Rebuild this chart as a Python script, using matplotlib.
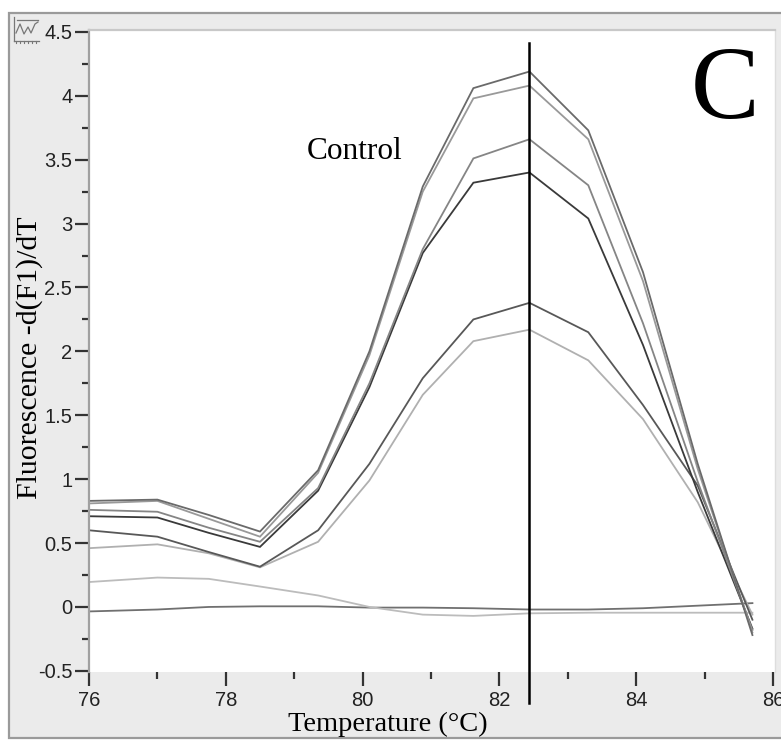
import matplotlib
matplotlib.use("Agg")
import matplotlib.pyplot as plt
from matplotlib.patches import Rectangle
from matplotlib.lines import Line2D
from matplotlib.ticker import MultipleLocator

# ---- data ----
temperature = [76.0, 77.0, 77.75, 78.5, 79.35, 80.1, 80.88, 81.62, 82.44, 83.3, 84.1, 84.9, 85.7]
curve_a = [0.83, 0.84, 0.72, 0.59, 1.07, 2.00, 3.29, 4.06, 4.19, 3.73, 2.62, 1.12, -0.22]
curve_b = [0.81, 0.83, 0.69, 0.55, 1.05, 1.97, 3.25, 3.98, 4.08, 3.66, 2.55, 1.08, -0.20]
curve_c = [0.76, 0.745, 0.62, 0.51, 0.93, 1.75, 2.80, 3.51, 3.66, 3.30, 2.22, 0.98, -0.18]
curve_d = [0.71, 0.70, 0.58, 0.47, 0.91, 1.72, 2.77, 3.32, 3.40, 3.04, 2.05, 0.90, -0.17]
curve_e = [0.60, 0.55, 0.43, 0.315, 0.60, 1.12, 1.79, 2.25, 2.38, 2.15, 1.58, 0.95, -0.10]
curve_f = [0.46, 0.49, 0.42, 0.31, 0.51, 0.99, 1.66, 2.08, 2.17, 1.93, 1.47, 0.82, -0.06]
curve_g = [0.195, 0.23, 0.22, 0.16, 0.09, 0.0, -0.06, -0.07, -0.05, -0.045, -0.045, -0.045, -0.045]
curve_h = [-0.035, -0.02, 0.0, 0.005, 0.005, -0.005, -0.005, -0.01, -0.02, -0.02, -0.01, 0.01, 0.03]
series = [curve_h, curve_g, curve_f, curve_e, curve_d, curve_c, curve_b, curve_a]
colors = ['#707070', '#bcbcbc', '#b0b0b0', '#585858', '#3a3a3a', '#858585', '#999999', '#6a6a6a']
marker_temp = 82.44
xticks = [76, 78, 80, 82, 84, 86]
yticks = [-0.5, 0, 0.5, 1, 1.5, 2, 2.5, 3, 3.5, 4, 4.5]
ytick_labels = ['-0.5', '0', '0.5', '1', '1.5', '2', '2.5', '3', '3.5', '4', '4.5']

W, H = 781, 740
fig = plt.figure(figsize=(W / 100, H / 100), dpi=100, facecolor='white')

def fx(px):
    return px / W

def fy(py):
    return 1 - py / H

# outer gray panel with frame
panel = Rectangle((fx(9), fy(738)), fx(800) - fx(9), fy(13) - fy(738),
                  transform=fig.transFigure, facecolor='#ebebeb',
                  edgecolor='#9a9a9a', linewidth=1.6, zorder=-10)
fig.add_artist(panel)

# small chart icon in the top-left corner
icon_lines = [
    ([14, 14], [17, 41]), ([14, 39], [41, 41]),
    ([16, 20, 24, 28, 31, 35, 38], [33, 24, 34, 27, 33, 24, 22]),
    ([17, 38], [20, 20]),
]
for xs, ys in icon_lines:
    fig.add_artist(Line2D([fx(v) for v in xs], [fy(v) for v in ys],
                          transform=fig.transFigure, color='#777777', linewidth=0.9))
for xv in range(16, 40, 4):
    fig.add_artist(Line2D([fx(xv), fx(xv)], [fy(41), fy(43)],
                          transform=fig.transFigure, color='#777777', linewidth=0.8))

ax = fig.add_axes([fx(89), fy(672), fx(775) - fx(89), fy(30) - fy(672)])
ax.set_zorder(1)
ax.set_facecolor('white')
for xs, c in zip(series, colors):
    ax.plot(temperature, xs, color=c, linewidth=1.3, solid_joinstyle='miter')

ax.plot([marker_temp, marker_temp], [-0.751, 4.413], color='black', linewidth=1.8,
        clip_on=False, zorder=5)

ax.set_xlim(76, 86.03)
ax.set_ylim(-0.509, 4.515)
ax.set_xticks(xticks)
ax.set_xticklabels([str(t) for t in xticks])
ax.set_yticks(yticks)
ax.set_yticklabels(ytick_labels)
ax.xaxis.set_minor_locator(MultipleLocator(1))
ax.yaxis.set_minor_locator(MultipleLocator(0.25))
ax.tick_params(axis='both', which='major', direction='out', length=10, width=1.6,
               color='#333333', labelsize=14.5, labelcolor='#222222', pad=2)
ax.tick_params(axis='x', which='major', pad=4)
ax.tick_params(axis='both', which='minor', direction='out', length=5, width=1.6,
               color='#333333')
for lab in ax.get_xticklabels() + ax.get_yticklabels():
    lab.set_fontfamily('Liberation Sans')

ax.spines['left'].set_color('#a0a0a0')
ax.spines['left'].set_linewidth(1.6)
ax.spines['top'].set_color('#c8c8c8')
ax.spines['top'].set_linewidth(1.6)
ax.spines['right'].set_color('#dddddd')
ax.spines['right'].set_linewidth(1.0)
ax.spines['bottom'].set_visible(False)

fig.text(fx(355), fy(159), 'Control', family='Liberation Serif', fontsize=22.5,
         ha='center', va='baseline', color='black', zorder=10)
fig.text(fx(725), fy(118), 'C', family='Liberation Serif', fontsize=74,
         ha='center', va='baseline', color='black', zorder=10)
fig.text(fx(388), fy(731), 'Temperature (°C)', family='Liberation Serif', fontsize=20.5,
         ha='center', va='baseline', color='black', zorder=10)
fig.text(fx(37), fy(358), 'Fluorescence -d(F1)/dT', family='Liberation Serif', fontsize=21.5,
         ha='center', va='baseline', rotation=90, rotation_mode='anchor',
         color='black', zorder=10)

fig.savefig('out.png', dpi=100, facecolor='white')
